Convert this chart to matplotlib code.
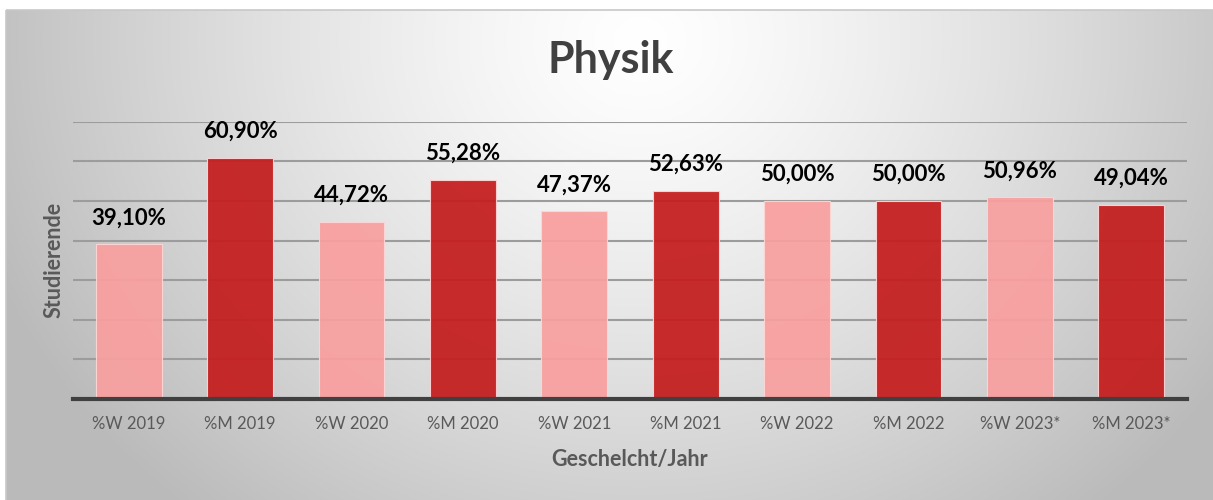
import numpy as np
import matplotlib.pyplot as plt
from matplotlib.patches import Rectangle

# Data
categories = ['%W 2019', '%M 2019', '%W 2020', '%M 2020', '%W 2021',
              '%M 2021', '%W 2022', '%M 2022', '%W 2023*', '%M 2023*']
values = [39.10, 60.90, 44.72, 55.28, 47.37, 52.63, 50.00, 50.00, 50.96, 49.04]
light = '#F99F9F'
dark = '#C41C1C'
colors = [light, dark] * 5

plt.rcParams['font.family'] = ['Lato', 'DejaVu Sans']

W, H = 1213, 500
fig = plt.figure(figsize=(W / 100, H / 100), dpi=100)

# radial gradient background of the chart area
bg = fig.add_axes([0, 0, 1, 1], zorder=-10)
yy, xx = np.mgrid[0:H, 0:W]
r = np.sqrt(((xx - 640) / 700.0) ** 2 + ((yy - 40) / 620.0) ** 2)
r = np.clip(r, 0, 1)
g = 1.0 - 0.27 * r ** 1.3
img = np.dstack([g, g, g])
img[:10, :, :] = 1.0
img[:, :6, :] = 1.0
bg.imshow(img, extent=[0, W, H, 0], aspect='auto', interpolation='bilinear')
bg.add_patch(Rectangle((6, 10), W, H, fill=False, edgecolor='#C8C8C8', lw=1.2))
bg.set_xlim(0, W)
bg.set_ylim(H, 0)
bg.axis('off')

# plot area
ax = fig.add_axes([73 / W, 1 - 399 / H, (1187 - 73) / W, (399 - 121.7) / H])
ax.set_facecolor('none')
x = np.arange(len(categories))
bars = ax.bar(x, values, width=0.59, color=colors, alpha=0.93,
              edgecolor='#FFD6D6', linewidth=0.8, zorder=3)

ax.set_ylim(0, 70)
ax.set_xlim(-0.5, len(categories) - 0.5)
ax.set_yticks(np.arange(10, 71, 10))
ax.yaxis.grid(True, color='#9C9C9C', linewidth=1.5, zorder=1)
ax.set_axisbelow(True)
ax.tick_params(axis='y', left=False, labelleft=False)
ax.tick_params(axis='x', bottom=False, pad=9, labelsize=12, labelcolor='#595959')
ax.set_xticks(x)
ax.set_xticklabels(categories)
for s in ['top', 'right', 'left']:
    ax.spines[s].set_visible(False)
ax.spines['bottom'].set_color('#404040')
ax.spines['bottom'].set_linewidth(3)
ax.spines['bottom'].set_zorder(4)

for xi, v in zip(x, values):
    ax.annotate(f'{v:.2f}%'.replace('.', ','), (xi, v), xytext=(0, 19),
                textcoords='offset points', ha='center', va='center',
                fontsize=16, fontweight='bold', color='black', annotation_clip=False)

ax.set_xlabel('Geschelcht/Jahr', fontsize=15.5, fontweight='bold', color='#595959', labelpad=12)
ax.set_ylabel('Studierende', fontsize=15.5, fontweight='bold', color='#595959', labelpad=6)
fig.text(611 / W, 1 - 60 / H, 'Physik', ha='center', va='center',
         fontsize=31, fontweight='bold', color='#404040')

fig.savefig('out.png', dpi=100)
